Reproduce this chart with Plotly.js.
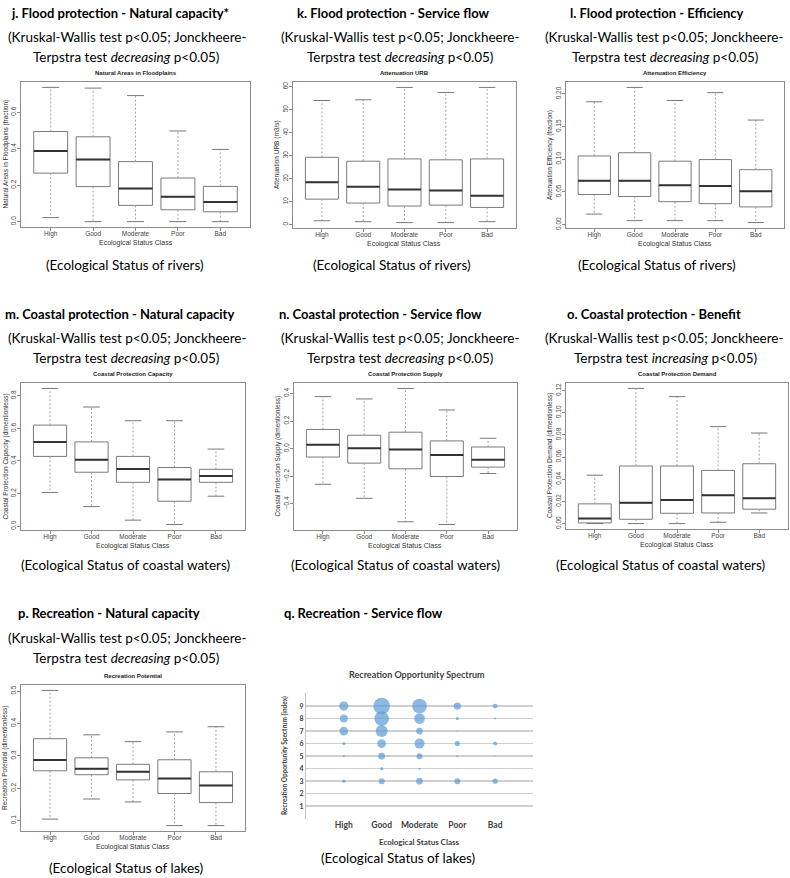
<!DOCTYPE html>
<html><head><meta charset="utf-8">
<script src="https://cdn.plot.ly/plotly-3.0.1.min.js"></script>
<style>html,body{margin:0;padding:0;background:#fff}#chart{width:790px;height:878px}</style>
</head><body><div id="chart"></div>
<script>
const classes = ['High', 'Good', 'Moderate', 'Poor', 'Bad'];

// j. Natural Areas in Floodplains (fraction)
const jLow  = [0.022, 0.0, 0.0, 0.0, 0.0];
const jQ1   = [0.266, 0.192, 0.089, 0.065, 0.054];
const jMed  = [0.387, 0.340, 0.181, 0.136, 0.108];
const jQ3   = [0.494, 0.465, 0.329, 0.239, 0.193];
const jHigh = [0.736, 0.732, 0.691, 0.497, 0.396];
// k. Attenuation URB (m3/s)
const kLow  = [1.7, 1.3, 0.9, 0.9, 1.3];
const kQ1   = [11.1, 9.4, 8.1, 8.5, 7.5];
const kMed  = [18.5, 16.5, 15.3, 14.9, 12.6];
const kQ3   = [29.3, 27.6, 28.6, 28.2, 28.6];
const kHigh = [54.0, 54.3, 59.7, 57.5, 59.7];
// l. Attenuation Efficiency (fraction)
const lLow  = [0.016, 0.006, 0.006, 0.006, 0.003];
const lQ1   = [0.046, 0.043, 0.035, 0.032, 0.027];
const lMed  = [0.067, 0.067, 0.060, 0.059, 0.051];
const lQ3   = [0.105, 0.110, 0.097, 0.0995, 0.084];
const lHigh = [0.188, 0.210, 0.190, 0.202, 0.160];
// m. Coastal Protection Capacity
const mLow  = [0.207, 0.120, 0.037, 0.010, 0.184];
const mQ1   = [0.428, 0.331, 0.269, 0.153, 0.269];
const mMed  = [0.517, 0.407, 0.351, 0.287, 0.308];
const mQ3   = [0.620, 0.517, 0.428, 0.360, 0.349];
const mHigh = [0.845, 0.731, 0.647, 0.647, 0.473];
// n. Coastal Protection Supply
const nLow  = [-0.258, -0.360, -0.530, -0.550, -0.180];
const nQ1   = [-0.061, -0.105, -0.146, -0.202, -0.134];
const nMed  = [0.029, 0.002, -0.007, -0.046, -0.080];
const nQ3   = [0.139, 0.097, 0.119, 0.056, 0.012];
const nHigh = [0.377, 0.360, 0.436, 0.280, 0.075];
// o. Coastal Protection Demand
const oLow  = [0.0, 0.0, 0.0, 0.0012, 0.0096];
const oQ1   = [0.0006, 0.0039, 0.0093, 0.0096, 0.0130];
const oMed  = [0.0045, 0.0187, 0.0214, 0.0256, 0.0229];
const oQ3   = [0.0178, 0.052, 0.052, 0.048, 0.054];
const oHigh = [0.0437, 0.122, 0.1146, 0.0875, 0.0817];
// p. Recreation Potential
const pLow  = [0.105, 0.167, 0.158, 0.085, 0.085];
const pQ1   = [0.254, 0.242, 0.226, 0.184, 0.156];
const pMed  = [0.287, 0.260, 0.251, 0.230, 0.209];
const pQ3   = [0.353, 0.294, 0.274, 0.288, 0.251];
const pHigh = [0.502, 0.365, 0.344, 0.374, 0.390];

// q. Recreation Opportunity Spectrum - bubble areas per index level
const ropLevels   = [3, 4, 5, 6, 7, 8, 9];
const ropHigh     = [11, 0.3, 4, 11, 75, 64, 86];
const ropGood     = [36, 11, 45, 75, 144, 216, 279];
const ropModerate = [45, 4, 36, 100, 45, 114, 216];
const ropPoor     = [36, 0.5, 4, 28, 1.7, 11, 53];
const ropBad      = [28, 0, 1, 16, 0, 4, 22];
const ropYTicks   = ['1', '2', '3', '4', '5', '6', '7', '8', '9', ''];

const W = 790, H = 878;
const fx = p => p / W, fy = p => 1 - p / H;
const rFont = 'Liberation Sans, Arial, sans-serif';
const wFont = 'Lato, sans-serif';

const panels = [
  {frame: [21, 250, 82, 227], d: [jLow, jQ1, jMed, jQ3, jHigh], dtick: 0.2, fmt: '.1f',
   title: 'Natural Areas in Floodplains', ytitle: 'Natural Areas in Floodplains (fraction)', ytx: 5},
  {frame: [293, 516, 82, 228], d: [kLow, kQ1, kMed, kQ3, kHigh], dtick: 10, fmt: 'd',
   title: 'Attenuation URB', ytitle: 'Attenuation URB (m3/s)', ytx: 277},
  {frame: [566, 784, 82, 228], d: [lLow, lQ1, lMed, lQ3, lHigh], dtick: 0.05, fmt: '.2f',
   title: 'Attenuation Efficiency', ytitle: 'Attenuation Efficiency (fraction)', ytx: 550},
  {frame: [21, 245, 383, 530], d: [mLow, mQ1, mMed, mQ3, mHigh], dtick: 0.2, fmt: '.1f',
   title: 'Coastal Protection Capacity', ytitle: 'Coastal Protection Capacity (dimentionless)', ytx: 5},
  {frame: [294, 517, 383, 530], d: [nLow, nQ1, nMed, nQ3, nHigh], dtick: 0.2, fmt: '.1f',
   title: 'Coastal Protection Supply', ytitle: 'Coastal Protection Supply (dimentionless)', ytx: 277},
  {frame: [566, 788, 383, 529], d: [oLow, oQ1, oMed, oQ3, oHigh], dtick: 0.02, fmt: '.2f',
   title: 'Coastal Protection Demand', ytitle: 'Coastal Protection Demand (dimentionless)', ytx: 550},
  {frame: [21, 245, 685, 831], d: [pLow, pQ1, pMed, pQ3, pHigh], dtick: 0.1, fmt: '.1f',
   title: 'Recreation Potential', ytitle: 'Recreation Potential (dimentionless)', ytx: 5}
];

const traces = [];
const layout = {
  width: W, height: H, margin: {l: 0, r: 0, t: 0, b: 0},
  paper_bgcolor: '#fff', plot_bgcolor: 'rgba(0,0,0,0)', showlegend: false,
  annotations: []
};
const ann = (text, x, y, font, extra) => layout.annotations.push(Object.assign({
  text, x: fx(x), y: fy(y), xref: 'paper', yref: 'paper', showarrow: false,
  xanchor: 'center', yanchor: 'middle', font
}, extra || {}));

panels.forEach((p, idx) => {
  const k = idx + 1, xa = 'x' + (k > 1 ? k : ''), ya = 'y' + (k > 1 ? k : '');
  const [lo, q1, med, q3, hi] = p.d;
  const xs = classes.map((c, i) => i + 1);
  const wx = [], wy = [], cx = [], cy = [], mx = [], my = [];
  xs.forEach((x, i) => {
    wx.push(x, x, null, x, x, null); wy.push(q3[i], hi[i], null, q1[i], lo[i], null);
    cx.push(x - 0.2, x + 0.2, null, x - 0.2, x + 0.2, null); cy.push(hi[i], hi[i], null, lo[i], lo[i], null);
    mx.push(x - 0.4, x + 0.4, null); my.push(med[i], med[i], null);
  });
  traces.push({type: 'scatter', mode: 'lines', x: wx, y: wy, xaxis: xa, yaxis: ya,
    line: {color: '#9a9a9a', width: 0.9, dash: '2px,2px'}, hoverinfo: 'skip'});
  traces.push({type: 'scatter', mode: 'lines', x: cx, y: cy, xaxis: xa, yaxis: ya,
    line: {color: '#777', width: 1}, hoverinfo: 'skip'});
  traces.push({type: 'box', x: xs, q1: q1, median: med, q3: q3, lowerfence: q1, upperfence: q3,
    xaxis: xa, yaxis: ya, width: 0.8, whiskerwidth: 0, boxpoints: false,
    fillcolor: 'rgba(255,255,255,0)', line: {color: '#7a7a7a', width: 1}});
  traces.push({type: 'scatter', mode: 'lines', x: mx, y: my, xaxis: xa, yaxis: ya,
    line: {color: '#333', width: 2}, hoverinfo: 'skip'});

  const allV = lo.concat(hi);
  const vmin = Math.min(...allV), vmax = Math.max(...allV), pad = (vmax - vmin) * 0.04;
  const [x0, x1, y0, y1] = p.frame;
  layout['xaxis' + (k > 1 ? k : '')] = {
    domain: [fx(x0), fx(x1)], anchor: ya, range: [0.3, 5.7],
    tickvals: xs, ticktext: classes, tickangle: 0, showgrid: false, zeroline: false,
    showline: true, mirror: true, linecolor: '#8c8c8c', linewidth: 1,
    ticks: 'outside', ticklen: 3, tickcolor: '#8c8c8c', ticklabelstandoff: -3,
    tickfont: {family: rFont, size: 6.5, color: '#444'}, fixedrange: true
  };
  layout['yaxis' + (k > 1 ? k : '')] = {
    domain: [fy(y1), fy(y0)], anchor: xa, range: [vmin - pad, vmax + pad],
    tick0: 0, dtick: p.dtick, tickformat: p.fmt, tickangle: -90,
    showgrid: false, zeroline: false, showline: true, mirror: true,
    linecolor: '#8c8c8c', linewidth: 1, ticks: 'outside', ticklen: 3, tickcolor: '#8c8c8c',
    ticklabelstandoff: -2,
    tickfont: {family: rFont, size: 6.5, color: '#444'}, fixedrange: true
  };
  ann('<b>' + p.title + '</b>', (x0 + x1) / 2, y0 - 9, {family: rFont, size: 6, color: '#222'});
  ann('Ecological Status Class', (x0 + x1) / 2, y1 + 16, {family: rFont, size: 7, color: '#333'});
  ann(p.ytitle, p.ytx, (y0 + y1) / 2, {family: rFont, size: 6.5, color: '#333'}, {textangle: -90});
});

// q. bubble chart
const bx = [], by = [], bs = [];
[ropHigh, ropGood, ropModerate, ropPoor, ropBad].forEach((arr, ci) => {
  arr.forEach((v, li) => { bx.push(ci + 1); by.push(ropLevels[li]); bs.push(v); });
});
traces.push({type: 'scatter', mode: 'markers', x: bx, y: by, xaxis: 'x8', yaxis: 'y8',
  marker: {size: bs, sizemode: 'area', sizeref: 2, color: '#5b9bd5', line: {width: 0}}, hoverinfo: 'skip'});
layout.xaxis8 = {
  domain: [fx(306), fx(533)], anchor: 'y8', range: [0, 6],
  tickvals: [1, 2, 3, 4, 5], ticktext: classes, tickangle: 0, showgrid: false, zeroline: false, showline: false,
  ticks: '', tickfont: {family: wFont, size: 8.5, color: '#404040', weight: 'bold'}, fixedrange: true
};
layout.yaxis8 = {
  domain: [fy(818.7), fy(693.3)], anchor: 'x8', range: [0, 10.02],
  tickvals: [1, 2, 3, 4, 5, 6, 7, 8, 9, 10], ticktext: ropYTicks,
  showgrid: true, gridcolor: '#cfcfcf', gridwidth: 1.5, zeroline: false,
  showline: true, linecolor: '#bfbfbf', linewidth: 1, ticks: '',
  tickfont: {family: wFont, size: 7, color: '#404040', weight: 'bold'}, fixedrange: true
};
ann('<b>Recreation Opportunity Spectrum</b>', 417, 674, {family: wFont, size: 9, color: '#404040'});
ann('<b>Ecological Status Class</b>', 419, 842, {family: wFont, size: 8, color: '#404040'});
ann('<b>Recreation Opportunity Spectrum (index)</b>', 284, 756, {family: wFont, size: 6.5, color: '#404040'}, {textangle: -90});

// document texts
const hFont = {family: wFont, size: 13, color: '#000'};
const tFont = {family: wFont, size: 13.5, color: '#000'};
const kw = '(Kruskal-Wallis test p&lt;0.05; Jonckheere-';
const tdec = 'Terpstra test <i>decreasing</i> p&lt;0.05)';
const tinc = 'Terpstra test <i>increasing</i> p&lt;0.05)';
ann('<b>j. Flood protection - Natural capacity*</b>', 120, 13, hFont);
ann('<b>k. Flood protection - Service flow</b>', 393, 13, hFont);
ann('<b>l. Flood protection - Efficiency</b>', 657, 13, hFont);
ann('<b>m. Coastal protection - Natural capacity</b>', 119, 314, hFont);
ann('<b>n. Coastal protection - Service flow</b>', 380, 314, hFont);
ann('<b>o. Coastal protection - Benefit</b>', 654, 314, hFont);
ann('<b>p. Recreation - Natural capacity</b>', 109, 613, hFont);
ann('<b>q. Recreation - Service flow</b>', 363, 613, hFont);

[[127, 37], [400, 37], [664, 37], [127, 338], [400, 338], [664, 338], [127, 638]].forEach(([x, y]) => ann(kw, x, y, tFont));
[[126, 57], [400, 57], [126, 358], [400, 358], [126, 658]].forEach(([x, y]) => ann(tdec, x, y, tFont));
ann(tdec, 665, 57, tFont);
ann(tinc, 665, 358, tFont);

[125, 392, 657].forEach(x => ann('(Ecological Status of rivers)', x, 265, tFont));
[125, 395, 660].forEach(x => ann('(Ecological Status of coastal waters)', x, 565, tFont));
ann('(Ecological Status of lakes)', 126, 868, tFont);
ann('(Ecological Status of lakes)', 398, 858, tFont);

Plotly.newPlot('chart', traces, layout, {staticPlot: true, displayModeBar: false});
</script>
</body></html>
